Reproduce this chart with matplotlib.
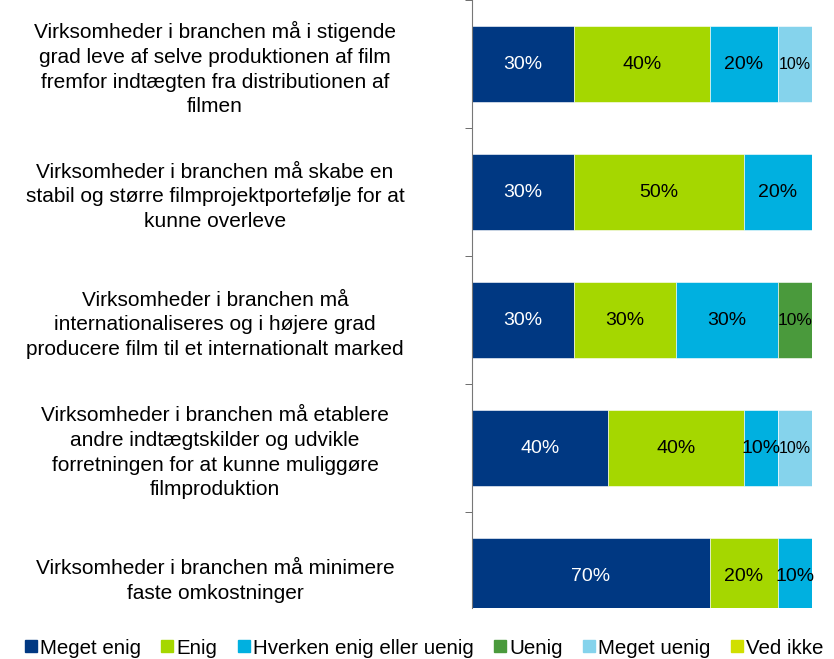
import matplotlib
matplotlib.use("Agg")
import matplotlib.pyplot as plt
from matplotlib.lines import Line2D
import numpy as np

plt.rcParams['font.family'] = ['Liberation Sans', 'DejaVu Sans']

categories = [
    "Virksomheder i branchen må i stigende\ngrad leve af selve produktionen af film\nfremfor indtægten fra distributionen af\nfilmen",
    "Virksomheder i branchen må skabe en\nstabil og større filmprojektportefølje for at\nkunne overleve",
    "Virksomheder i branchen må\ninternationaliseres og i højere grad\nproducere film til et internationalt marked",
    "Virksomheder i branchen må etablere\nandre indtægtskilder og udvikle\nforretningen for at kunne muliggøre\nfilmproduktion",
    "Virksomheder i branchen må minimere\nfaste omkostninger",
]
series = ["Meget enig", "Enig", "Hverken enig eller uenig", "Uenig", "Meget uenig", "Ved ikke"]
meget_enig = [30, 30, 30, 40, 70]
enig = [40, 50, 30, 40, 20]
hverken = [20, 20, 30, 10, 10]
uenig = [0, 0, 10, 0, 0]
meget_uenig = [10, 0, 0, 10, 0]
ved_ikke = [0, 0, 0, 0, 0]
colors = ["#003882", "#a5d700", "#00b0e0", "#4a9a3c", "#85d3ec", "#d0df00"]
text_colors = ["white", "black", "black", "black", "black", "black"]
label_sizes = [14, 14, 14, 12.5, 11.5, 12.5]

values = [meget_enig, enig, hverken, uenig, meget_uenig, ved_ikke]

fig = plt.figure(figsize=(8.34, 6.59), dpi=100)
ax = fig.add_axes([472/834, 51/659, 340/834, 608/659])

y = np.arange(len(categories))
left = np.zeros(len(categories))
for vals, col, tc, fs in zip(values, colors, text_colors, label_sizes):
    vals = np.array(vals, dtype=float)
    ax.barh(y, vals, left=left, height=0.59, color=col, edgecolor='white', linewidth=0.4)
    for i, v in enumerate(vals):
        if v > 0:
            ax.text(left[i] + v / 2, y[i], f"{int(v)}%", ha='center', va='center',
                    color=tc, fontsize=fs)
    left += vals

ax.set_xlim(0, 100)
ax.set_ylim(4.25, -0.5)
ax.set_xticks([])
ax.set_yticks(y)
ax.set_yticklabels(categories, fontsize=15, ha='center', multialignment='center',
                   linespacing=1.38)
ax.tick_params(axis='y', which='major', length=0, pad=185)
ax.set_yticks(np.arange(-0.5, 4.5, 1.0), minor=True)
ax.tick_params(axis='y', which='minor', length=5, direction='out', color='#555555')
for s in ['top', 'right', 'bottom']:
    ax.spines[s].set_visible(False)
ax.spines['left'].set_color('#777777')

handles = [Line2D([], [], marker='s', linestyle='', color=c, markersize=9) for c in colors]
fig.legend(handles, series, loc='center', bbox_to_anchor=(0.506, 11/659), ncol=6,
           frameon=False, fontsize=14.8, handletextpad=-0.05, columnspacing=0.78,
           handlelength=1.0, borderaxespad=0)

fig.savefig("out.png", dpi=100)
